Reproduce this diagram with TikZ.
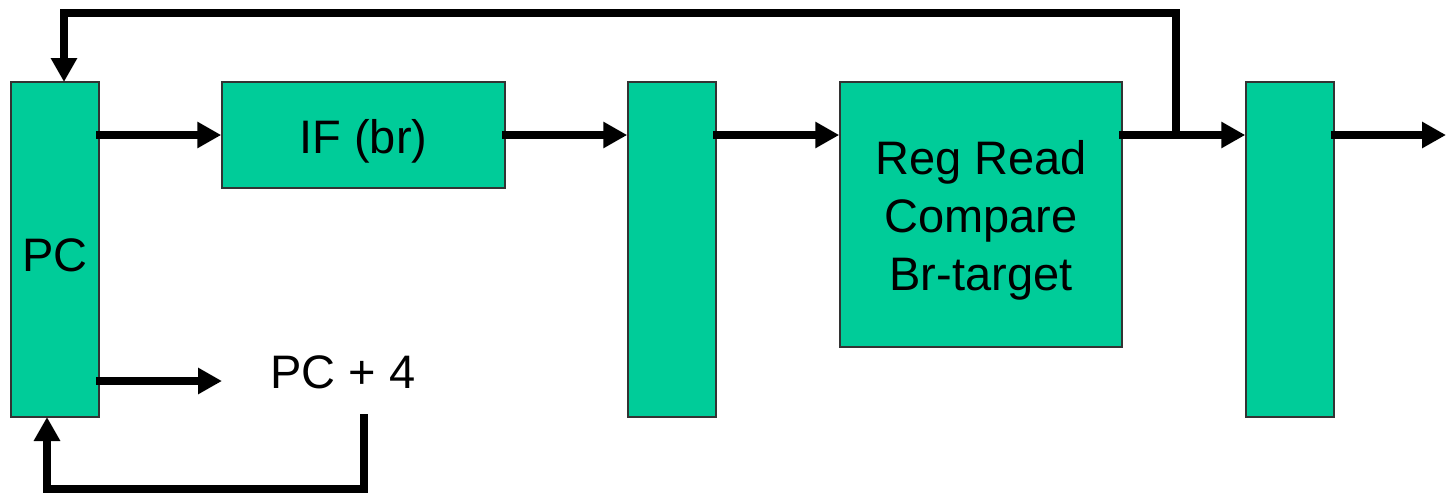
\documentclass[tikz,border=0pt]{standalone}
\usepackage{fontspec}
\setmainfont{Liberation Sans}
\usetikzlibrary{arrows.meta}
\definecolor{stage}{HTML}{00CC99}
\definecolor{edge}{HTML}{333333}
\tikzset{
  blk/.style={draw=edge, line width=1.5pt, fill=stage, inner sep=0pt},
  wire/.style={line width=8pt, line join=miter},
  arr/.style={wire, -{Triangle[length=24pt, width=25pt]}},
  lbl/.style={inner sep=0pt, align=center, font=\fontsize{47}{58}\selectfont},
  txt/.style={label={[lbl, yshift=-6pt]center:#1}}
}
\begin{document}
\begin{tikzpicture}[x=1pt, y=-1pt]
\useasboundingbox (0,0) rectangle (1446,493);
\node[blk, minimum width=88pt, minimum height=335pt, txt={PC}] (pc) at (55,249.5) {};
\node[blk, minimum width=283pt, minimum height=106pt, txt={IF (br)}] (if) at (363.5,135) {};
\node[blk, minimum width=88pt, minimum height=335pt] (l1) at (672,249.5) {};
\node[blk, minimum width=282pt, minimum height=265pt, txt={Reg Read\\Compare\\Br-target}] (rr) at (981,214.5) {};
\node[blk, minimum width=88pt, minimum height=335pt] (l2) at (1290,249.5) {};
\node[lbl] (p4) at (343,372) {PC + 4};
\coordinate (s1) at (96,135);
\coordinate (s2) at (502,135);
\coordinate (s3) at (713,135);
\coordinate (s4) at (1119,135);
\coordinate (s5) at (1331,135);
\coordinate (out) at (1446,135);
\coordinate (j) at (1176,135);
\coordinate (top) at (1176,13);
\coordinate (pcin) at (64,82);
\coordinate (s6) at (96,381);
\coordinate (p4in) at (222,381);
\coordinate (p4out) at (364,414);
\coordinate (bot) at (364,489);
\coordinate (pcin2) at (47,417);
\draw[arr] (s1) -- (s1 -| if.west);
\draw[arr] (s2) -- (s2 -| l1.west);
\draw[arr] (s3) -- (s3 -| rr.west);
\draw[arr] (s4) -- (s4 -| l2.west);
\draw[arr] (s5) -- (out);
\draw[arr] (j) -- (top) -| (pcin);
\draw[arr] (s6) -- (p4in);
\draw[arr] (p4out) -- (bot) -| (pcin2);
\end{tikzpicture}
\end{document}
